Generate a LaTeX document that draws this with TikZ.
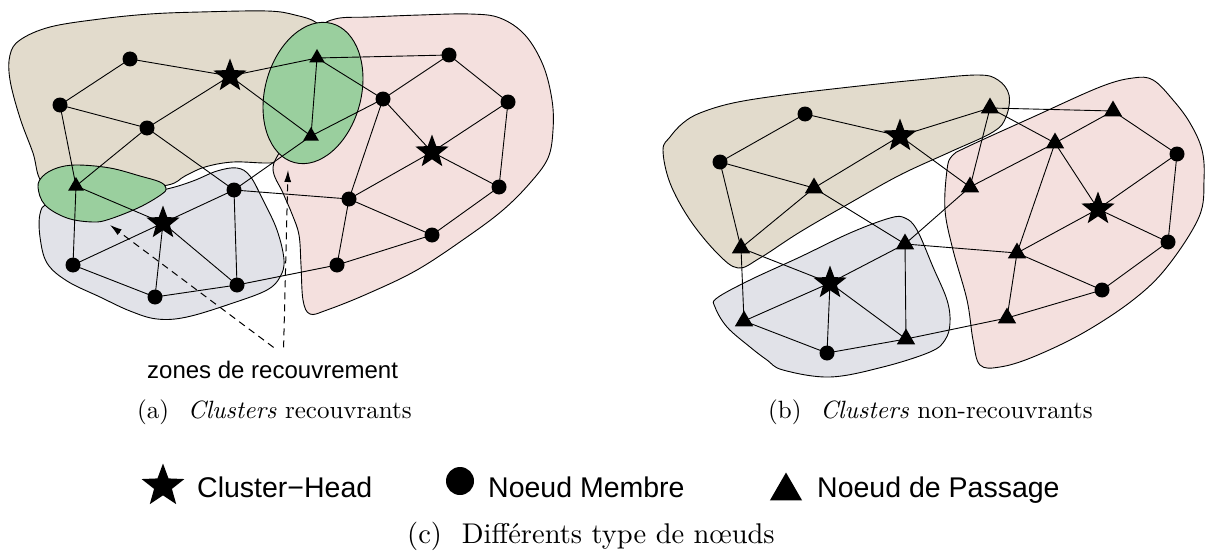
\documentclass[tikz,border=0pt]{standalone}
\usepackage{fontspec}
\newfontfamily\sansf{Liberation Sans}
\newfontfamily\capf{lmroman10-regular}[Extension=.otf,ItalicFont=lmroman10-italic]
\usetikzlibrary{shapes.geometric,arrows.meta}
\pgfdeclarelayer{regions}
\pgfdeclarelayer{edges}
\pgfsetlayers{regions,edges,main}
\definecolor{tanc}{RGB}{226,219,204}
\definecolor{pinkc}{RGB}{244,224,222}
\definecolor{greyc}{RGB}{225,226,232}
\definecolor{greenc}{RGB}{154,207,158}
\tikzset{
  memb/.style={circle,fill=black,inner sep=0pt,minimum size=15pt},
  head/.style={star,star points=5,star point ratio=2.4,fill=black,inner sep=0pt,minimum size=35pt},
  pass/.style={regular polygon,regular polygon sides=3,fill=black,inner sep=0pt,minimum size=18pt},
  passb/.style={pass,minimum size=21pt},
  link/.style={line width=0.9pt},
  regionline/.style={draw=black,line width=0.9pt},
  zarrow/.style={line width=1pt,dash pattern=on 7pt off 5pt,-{Latex[length=12pt,width=7pt]}},
  sanslabel/.style={anchor=base west,inner sep=0pt,font=\sansf\fontsize{24}{29}\selectfont},
  legendlabel/.style={anchor=base west,inner sep=0pt,font=\sansf\fontsize{28.5}{34}\selectfont},
  caplabel/.style={anchor=base west,inner sep=0pt,font=\capf\fontsize{25}{30}\selectfont},
}
\begin{document}
\begin{tikzpicture}[x=1pt,y=-1pt]
\useasboundingbox (0,0) rectangle (1205,551);
% ---------- (a) nodes ----------
\node[memb] (A1) at (130,59) {};
\node[head] (S1) at (230,76) {};
\node[memb] (A2) at (60,105) {};
\node[memb] (A3) at (147,128) {};
\node[pass] (T1) at (76,186) {};
\node[memb] (C1) at (234,190) {};
\node[pass] (T2) at (317,58) {};
\node[memb] (B1) at (449,55) {};
\node[memb] (B2) at (383,99) {};
\node[pass] (T3) at (311,136) {};
\node[memb] (B3) at (508,102) {};
\node[head] (S2) at (432,152) {};
\node[memb] (B4) at (499,187) {};
\node[memb] (B5) at (349,199) {};
\node[memb] (B6) at (432,235) {};
\node[memb] (B7) at (337,265) {};
\node[head] (S3) at (163,223) {};
\node[memb] (C2) at (73,265) {};
\node[memb] (C3) at (155,297) {};
\node[memb] (C4) at (237,285) {};
% ---------- (b) nodes ----------
\node[memb] (D1) at (805,114) {};
\node[head] (S4) at (900,136) {};
\node[memb] (D2) at (720,162) {};
\node[passb] (U1) at (814,188) {};
\node[passb] (U2) at (741,248) {};
\node[passb] (U3) at (905,244) {};
\node[passb] (U4) at (990,108) {};
\node[passb] (U5) at (1113,111) {};
\node[passb] (U6) at (1055,143) {};
\node[passb] (U7) at (970,187) {};
\node[memb] (E1) at (1177,154) {};
\node[head] (S5) at (1098,209) {};
\node[memb] (E2) at (1168,242) {};
\node[passb] (U8) at (1017,253) {};
\node[head] (S6) at (830,283) {};
\node[passb] (U9) at (744,321) {};
\node[memb] (F1) at (827,353) {};
\node[passb] (U10) at (906,339) {};
\node[memb] (E3) at (1102,290) {};
\node[passb] (U11) at (1007,318) {};
% ---------- edges ----------
\begin{pgfonlayer}{edges}
\foreach \a/\b in {A1/S1,A1/A2,A2/A3,A3/S1,A2/T1,A3/T1,A3/C1,S1/T2,S1/T3,
  T2/B1,T2/T3,T2/B2,T3/B2,T3/C1,B1/B2,B1/B3,B2/S2,B2/B5,B3/S2,B3/B4,S2/B4,
  S2/B5,B5/B6,B5/B7,B6/B4,B6/B7,C1/B5,C4/B7,T1/S3,T1/C2,S3/C1,S3/C2,S3/C3,
  S3/C4,C1/C4,C2/C3,C3/C4,
  D1/D2,D1/S4,D2/U1,D2/U2,U1/S4,U2/U1,U1/U3,S4/U4,S4/U7,U4/U5,U4/U7,U4/U6,
  U7/U6,U5/U6,U5/E1,U6/S5,U6/U8,E1/S5,E1/E2,S5/E2,S5/U8,U8/E3,U8/U11,E3/E2,
  E3/U11,U7/U3,U3/U8,U10/U11,U2/S6,U2/U9,S6/U3,S6/U9,S6/F1,S6/U10,U3/U10,
  U9/F1,F1/U10}
  \draw[link] (\a.center) -- (\b.center);
\end{pgfonlayer}
% ---------- regions ----------
\begin{pgfonlayer}{regions}
% (a) tan
\draw[regionline,fill=tanc] plot[smooth cycle,tension=0.6] coordinates {
 (10,55) (20,40) (50,27) (100,19) (150,14) (200,12) (267,11) (295,15) (317,23)
 (328,40) (335,90) (312,140) (290,160) (268,163) (233,162) (205,167) (185,176)
 (168,185) (120,190) (70,192) (42,182) (33,153) (20,118) (10,80)};
% (a) grey
\draw[regionline,fill=greyc] plot[smooth cycle,tension=0.6] coordinates {
 (48,204) (80,200) (125,197) (167,189) (193,181) (217,171) (237,168) (250,176)
 (263,200) (277,230) (284,260) (280,277) (267,290) (233,303) (187,317) (157,319)
 (130,311) (100,297) (67,281) (47,263) (40,237) (40,214)};
% (a) pink
\draw[regionline,fill=pinkc] plot[smooth cycle,tension=0.6] coordinates {
 (318,32) (335,19) (370,17) (420,15) (470,14) (500,18) (525,35) (543,65)
 (552,100) (553,130) (548,158) (530,183) (503,210) (467,237) (417,270)
 (367,294) (327,310) (310,314) (303,300) (301,265) (299,235) (292,214)
 (283,193) (273,168) (285,140) (302,80)};
% (a) green zones
\draw[regionline,fill=greenc] plot[smooth cycle,tension=0.6] coordinates {
 (38,187) (43,176) (57,168) (77,165) (110,168) (140,176) (160,182) (166,188)
 (162,194) (140,207) (110,219) (93,222) (67,218) (45,205)};
\draw[regionline,fill=greenc,rotate around={-15:(313,93)}] (313,93) ellipse [x radius=48,y radius=72];
% (b) tan
\draw[regionline,fill=tanc] plot[smooth cycle,tension=0.6] coordinates {
 (663,150) (670,137) (683,123) (700,113) (733,103) (783,95) (850,87) (917,80)
 (977,75) (998,80) (1009,95) (1006,117) (993,132) (950,152) (900,175) (850,203)
 (800,232) (760,258) (738,268) (717,253) (690,220) (670,183)};
% (b) grey
\draw[regionline,fill=greyc] plot[smooth cycle,tension=0.6] coordinates {
 (717,298) (750,280) (800,257) (850,233) (890,218) (905,218) (917,230) (933,267)
 (947,300) (950,323) (945,340) (930,352) (883,367) (830,377) (783,370) (767,360)
 (750,347) (727,327) (715,307)};
% (b) pink
\draw[regionline,fill=pinkc] plot[smooth cycle,tension=0.6] coordinates {
 (947,170) (952,156) (967,147) (1033,117) (1100,87) (1133,78) (1153,80)
 (1173,100) (1190,123) (1202,150) (1204,180) (1199,217) (1167,267) (1133,300)
 (1083,333) (1033,357) (1000,367) (980,365) (973,340) (967,300) (953,250) (945,210)};
\end{pgfonlayer}
% ---------- annotations ----------
\node[sanslabel] (zr) at (147,378) {zones de recouvrement};
\coordinate (gA) at (110,225);
\coordinate (gB) at (288,170);
\draw[zarrow] ([xshift=1pt,yshift=13pt]zr.north) -- (gA);
\draw[zarrow] ([xshift=11pt,yshift=13pt]zr.north) -- (gB);
\node[caplabel] (capa) at (137,418) {(a)\hspace{0.75em}\textit{Clusters} recouvrants};
\node[caplabel] (capb) at (768,418) {(b)\hspace{0.75em}\textit{Clusters} non-recouvrants};
% ---------- legend ----------
\node[head,minimum size=45pt] (lgS) at (163,486) {};
\node[legendlabel] (lgSt) at (197,497) {Cluster−Head};
\node[memb,minimum size=28pt] (lgM) at (460,481) {};
\node[legendlabel] (lgMt) at (488,497) {Noeud Membre};
\node[pass,minimum size=37pt] (lgP) at (786,491) {};
\node[legendlabel] (lgPt) at (817,497) {Noeud de Passage};
\node[caplabel,font=\capf\fontsize{28.5}{34}\selectfont] (capc) at (407,543) {(c)\hspace{0.7em}Différents type de nœuds};
\end{tikzpicture}
\end{document}
